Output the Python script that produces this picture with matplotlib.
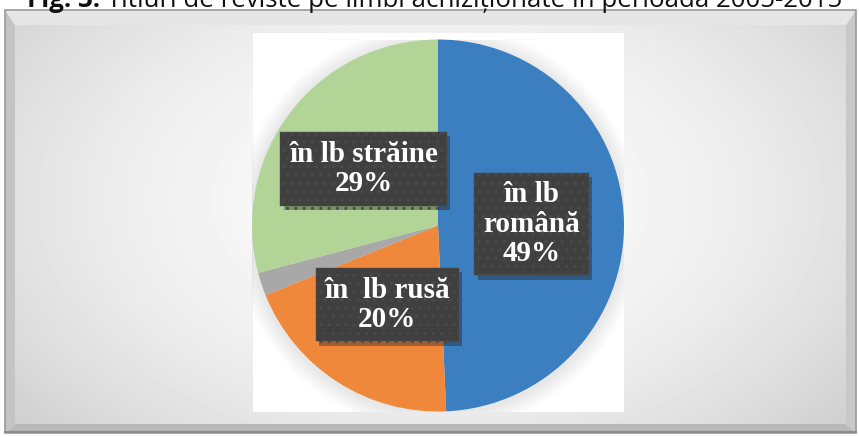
import numpy as np
import matplotlib.pyplot as plt
from matplotlib.patches import Polygon, Rectangle, Circle
import matplotlib.patheffects as pe

# data
labels = ['în lb\nromână\n49%', 'în  lb rusă\n20%', '', 'în lb străine\n29%']
shares = [49.3, 19.6, 2.0, 29.1]
colors = ['#3b7fc0', '#f0883c', '#a8a8a8', '#b2d597']
title_bold = 'Fig. 3.'
title_rest = 'Titluri de reviste pe limbi achiziționate în perioada 2005-2015'

W, H = 859, 437
fig = plt.figure(figsize=(W / 100, H / 100), dpi=100)
fig.patch.set_facecolor('white')

# background in pixel coordinates
bg = fig.add_axes([0, 0, 1, 1])
bg.set_xlim(0, W)
bg.set_ylim(H, 0)
bg.axis('off')

x0, y0, x1, y1 = 5, 10, 856, 433      # outer frame
ix0, iy0, ix1, iy1 = 15, 25, 846, 424  # inner face

yy, xx = np.mgrid[0:H, 0:W]
r2 = ((xx - 430) / 470.0) ** 2 + ((yy - 200) / 300.0) ** 2
grad = np.clip(0.985 - 0.13 * r2, 0, 1)
img = bg.imshow(grad, cmap='gray', vmin=0, vmax=1, extent=(0, W, H, 0),
                interpolation='bilinear', zorder=1)
img.set_clip_path(Rectangle((ix0, iy0), ix1 - ix0, iy1 - iy0,
                            transform=bg.transData))

# bevel
bev = [
    ([(x0, y0), (x1, y0), (ix1, iy0), (ix0, iy0)], '#e6e6e6'),
    ([(x0, y0), (ix0, iy0), (ix0, iy1), (x0, y1)], '#c4c4c4'),
    ([(x1, y0), (x1, y1), (ix1, iy1), (ix1, iy0)], '#c8c8c8'),
    ([(x0, y1), (ix0, iy1), (ix1, iy1), (x1, y1)], '#b9b9b9'),
]
for pts, c in bev:
    bg.add_patch(Polygon(pts, closed=True, facecolor=c, edgecolor='none', zorder=2))
bg.add_patch(Rectangle((x0, y0), x1 - x0, y1 - y0, fill=False,
                       edgecolor='#9a9a9a', lw=1.2, zorder=3))
bg.plot([x0, x1], [y1 - 1, y1 - 1], color='#8c8c8c', lw=1.5, zorder=3)

# white plot area
bg.add_patch(Rectangle((253, 33), 371, 379, facecolor='white',
                       edgecolor='none', zorder=4))

# pie
cx, cy, R = 438, 225.5, 186
ax = fig.add_axes([(cx - R) / W, (H - cy - R) / H, 2 * R / W, 2 * R / H])
ax.axis('off')
for k in range(8):
    ax.add_patch(Circle((0, -0.01), 1.0 + 0.012 * (k + 1), color='black',
                        alpha=0.012, lw=0, zorder=0))
ax.pie(shares, colors=colors, startangle=90, counterclock=False, radius=1,
       wedgeprops=dict(linewidth=0))
ax.set_xlim(-1, 1)
ax.set_ylim(-1, 1)

# label box centres, in pie units
lab_pos = [(0.503, 0.008), (-0.272, -0.425), None, (-0.400, 0.304)]
for lab, pos in zip(labels, lab_pos):
    if pos is None:
        continue
    t = ax.text(pos[0], pos[1], lab, ha='center', va='center', color='white',
                fontsize=21, fontweight='bold', family='Liberation Serif',
                linespacing=1.1, zorder=10,
                bbox=dict(boxstyle='square,pad=0.3', facecolor='#404040',
                          edgecolor='#4a4a4a', hatch='..', lw=0.3))
    t.get_bbox_patch().set_path_effects(
        [pe.SimplePatchShadow(offset=(2.5, -3), alpha=0.35), pe.Normal()])

# title, partially cut at top as in the source
fs = 18.6
tb = fig.text(27 / W, 1 - 7 / H, title_bold, family='Open Sans', fontweight='bold',
              fontsize=fs, color='#111111', va='baseline', ha='left')
fig.canvas.draw()
ext = tb.get_window_extent()
fig.text((ext.x1 + 7) / W, 1 - 7 / H, title_rest, family='Open Sans',
         fontsize=fs, color='#111111', va='baseline', ha='left')

fig.savefig('out.png', dpi=100)
